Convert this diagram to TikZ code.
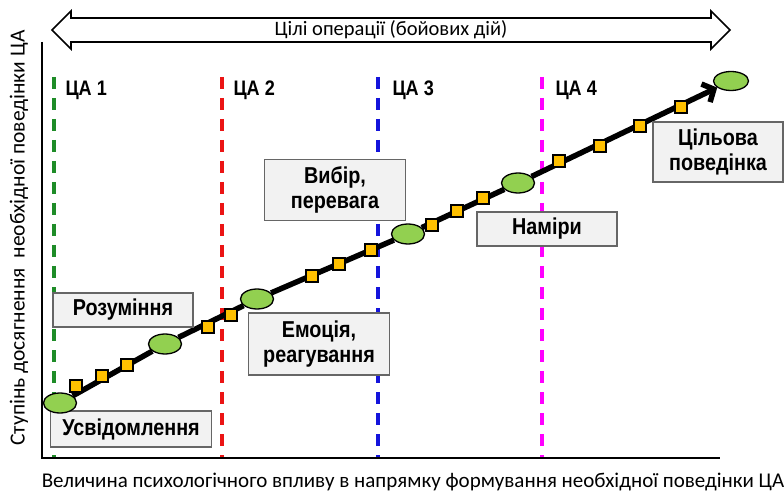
\documentclass[tikz,border=0pt]{standalone}
\usepackage{fontspec}
\setmainfont{Liberation Sans}
\newfontfamily\calibri{Carlito}
\newfontfamily\narrowsans[FakeStretch=0.86]{Liberation Sans}
\usetikzlibrary{shapes.geometric,shapes.arrows,arrows.meta,backgrounds}
\definecolor{ovalgreen}{HTML}{92D050}
\definecolor{sqgold}{HTML}{FFC000}
\definecolor{boxgray}{HTML}{F2F2F2}
\definecolor{cagreen}{RGB}{30,140,40}
\definecolor{cared}{RGB}{235,20,20}
\definecolor{cablue}{RGB}{20,20,220}
\definecolor{camagenta}{RGB}{255,0,255}

\begin{document}
\begin{tikzpicture}[
    x=1pt, y=-1pt,
    stage/.style={
        rectangle,
        draw=gray!80!black,
        fill=boxgray,
        line width=1.2pt,
        align=center,
        font=\narrowsans\bfseries\fontsize{23}{25}\selectfont
    },
    oval/.style={
        ellipse,
        draw,
        fill=ovalgreen,
        line width=1.3pt,
        minimum width=33pt,
        minimum height=20pt,
        inner sep=0pt
    },
    sq/.style={
        rectangle,
        draw,
        fill=sqgold,
        line width=1.2pt,
        minimum size=12pt,
        inner sep=0pt
    },
    ca/.style={anchor=west, font=\narrowsans\bfseries\fontsize{21}{23}\selectfont},
    border/.style={line width=3.2pt, dash pattern=on 12pt off 9pt},
    axislabel/.style={font=\calibri\fontsize{21}{23}\selectfont}
]
\useasboundingbox (0,0) rectangle (784,494);

% 축
\coordinate (ytop) at (42,42);
\coordinate (origin) at (42,458);
\coordinate (xend) at (720,458);
\node[axislabel, font=\calibri\fontsize{21.5}{23}\selectfont, rotate=90] (ylab) at (19,238) {Ступінь досягнення\ \ необхідної поведінки ЦА};
\node[axislabel] (xlab) at (413,482) {Величина психологічного впливу в напрямку формування необхідної поведінки ЦА};

% 목표
\node[double arrow, draw, line width=1.6pt, fill=white,
      minimum height=678pt, double arrow head extend=7pt, inner sep=2pt,
      font=\calibri\fontsize{20.5}{22}\selectfont] (goals) at (391,30) {Цілі операції (бойових дій)};

% 경계
\coordinate (g1) at (54,77);  \coordinate (g2) at (54,457);
\coordinate (r1) at (222,77); \coordinate (r2) at (222,457);
\coordinate (b1) at (378,77); \coordinate (b2) at (378,457);
\coordinate (m1) at (542,77); \coordinate (m2) at (542,457);
\node[ca] (ca1) at (62,90) {ЦА 1};
\node[ca] (ca2) at (230,90) {ЦА 2};
\node[ca] (ca3) at (389,90) {ЦА 3};
\node[ca] (ca4) at (552,90) {ЦА 4};

% 단계
\node[stage, minimum width=161pt, minimum height=36pt] (usv) at (131,429) {Усвідомлення};
\node[stage, minimum width=140pt, minimum height=34pt] (roz) at (123,310) {Розуміння};
\node[stage, minimum width=141pt, minimum height=62pt] (emo) at (319,344) {Емоція,\\реагування};
\node[stage, minimum width=141pt, minimum height=61pt] (vyb) at (335,190) {Вибір,\\перевага};
\node[stage, minimum width=140pt, minimum height=34pt] (nam) at (547,229) {Наміри};
\node[stage, minimum width=130pt, minimum height=60pt] (tsil) at (718,152) {Цільова\\поведінка};

% 노드
\node[oval] (e1) at (60,403) {};
\node[oval] (e2) at (165,344) {};
\node[oval] (e3) at (257,299) {};
\node[oval] (e4) at (408,234) {};
\node[oval] (e5) at (518,183) {};
\node[oval, minimum width=35pt, minimum height=19pt] (e6) at (731,81) {};

\node[sq] (s1) at (76,386) {};
\node[sq] (s2) at (102,376) {};
\node[sq] (s3) at (127,365) {};
\node[sq] (s4) at (208,327) {};
\node[sq] (s5) at (231,315) {};
\node[sq] (s6) at (312,276) {};
\node[sq] (s7) at (339,264) {};
\node[sq] (s8) at (371,250) {};
\node[sq] (s9) at (432,225) {};
\node[sq] (s10) at (457,211) {};
\node[sq] (s11) at (483,198) {};
\node[sq] (s12) at (559,161) {};
\node[sq] (s13) at (600,146) {};
\node[sq] (s14) at (640,126) {};
\node[sq] (s15) at (681,107) {};

% 간선
\begin{pgfonlayer}{background}
\draw[line width=2.8pt] (ytop) -- (origin) -- (xend);
\draw[border, cagreen] (g1) -- (g2);
\draw[border, cared] (r1) -- (r2);
\draw[border, cablue] (b1) -- (b2);
\draw[border, camagenta] (m1) -- (m2);
\draw[->, line width=5.5pt, >={Straight Barb[length=9pt, width=20pt]}]
    (e1) -- (e2) -- (e3) -- (e4) -- (e5) -- (e6);
\end{pgfonlayer}

\end{tikzpicture}
\end{document}
